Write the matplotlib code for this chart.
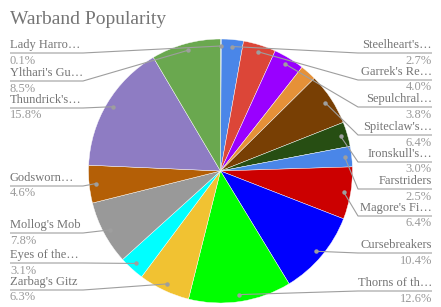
import numpy as np
import matplotlib
matplotlib.use("Agg")
import matplotlib.pyplot as plt

# --- data (clockwise from 12 o'clock) ---
names = [
    "Lady Harro…", "Steelheart's…", "Garrek's Re…", "Sepulchral…", "",
    "Spiteclaw's…", "Ironskull's…", "Farstriders", "Magore's Fi…",
    "Cursebreakers", "Thorns of th…", "Zarbag's Gitz", "Eyes of the…",
    "Mollog's Mob", "Godsworn…", "Thundrick's…", "Ylthari's Gu…",
]
shares = [0.1, 2.7, 4.0, 3.8, 2.0, 6.4, 3.0, 2.5, 6.4,
          10.4, 12.6, 6.3, 3.1, 7.8, 4.6, 15.8, 8.5]
colors = [
    "#a4c2f4", "#4a86e8", "#dc4638", "#9900ff", "#e69138",
    "#783f04", "#274e13", "#4a86e8", "#cc0000",
    "#0000ff", "#00ff00", "#f1c232", "#00ffff",
    "#999999", "#b45f06", "#8e7cc3", "#6aa84f",
]

# label stacking: side and pixel row of the name text, from the top
label_rows = {
    "Lady Harro…": ("L", 45), "Ylthari's Gu…": ("L", 73),
    "Thundrick's…": ("L", 100), "Godsworn…": ("L", 178),
    "Mollog's Mob": ("L", 225), "Eyes of the…": ("L", 255),
    "Zarbag's Gitz": ("L", 282),
    "Steelheart's…": ("R", 45), "Garrek's Re…": ("R", 72),
    "Sepulchral…": ("R", 99), "Spiteclaw's…": ("R", 127),
    "Ironskull's…": ("R", 154), "Farstriders": ("R", 181),
    "Magore's Fi…": ("R", 208), "Cursebreakers": ("R", 245),
    "Thorns of th…": ("R", 283),
}

W, H = 441, 307
cx, cy, R = 220.5, 171, 132
font = "Liberation Serif"
name_col = "#747474"
pct_col = "#9a9a9a"
line_col = "#9e9e9e"

fig = plt.figure(figsize=(W / 100, H / 100), dpi=100)
ax = fig.add_axes([0, 0, 1, 1])

ax.pie(shares, colors=colors, startangle=-90, counterclock=True,
       center=(cx, cy), radius=R, frame=False,
       wedgeprops=dict(edgecolor="white", linewidth=0.3))
ax.set_xlim(0, W)
ax.set_ylim(H, 0)
ax.axis("off")

fig.text(10 / W, 1 - 20 / H, "Warband Popularity", fontsize=14,
         family=font, color="#757575", va="center", ha="left")

total = sum(shares)
cum = 0.0
for name, val in zip(names, shares):
    mid = (cum + val / 2) / total
    cum += val
    if not name:
        continue
    ang = 2 * np.pi * mid
    dx = cx + 125 * np.sin(ang)
    dy = cy - 125 * np.cos(ang)
    side, ty = label_rows[name]
    uy = ty + 8
    if side == "R":
        x_out, x_in, ha = 432, 358, "right"
    else:
        x_out, x_in, ha = 10, 83, "left"
    ax.plot([dx, x_in, x_out], [dy, uy, uy], color=line_col, lw=0.8,
            solid_capstyle="butt")
    ax.plot(dx, dy, "o", color=line_col, ms=3.2, mew=0)
    ax.text(x_out, ty, name, fontsize=9, family=font, color=name_col,
            ha=ha, va="center")
    ax.text(x_out, uy + 7.5, f"{val:.1f}%", fontsize=9, family=font,
            color=pct_col, ha=ha, va="center")

fig.savefig("out.png", dpi=100)
